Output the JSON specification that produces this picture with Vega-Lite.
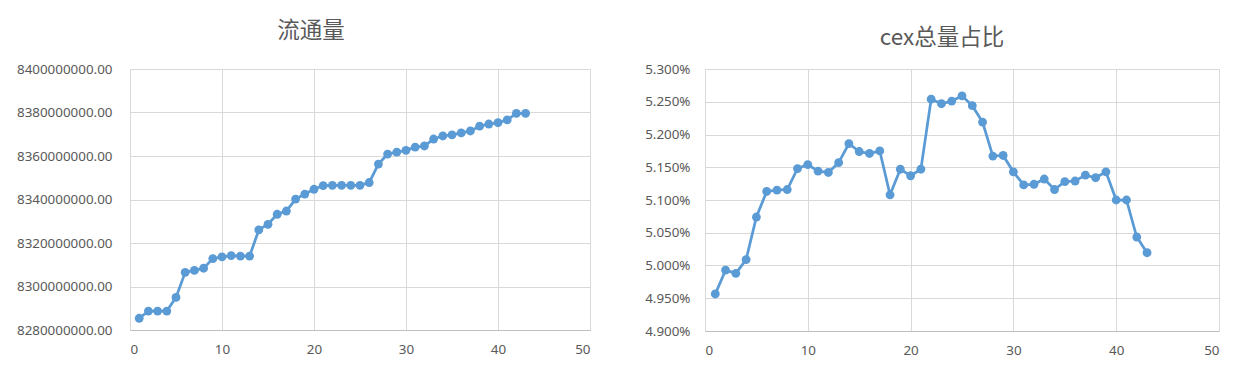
{
  "$schema": "https://vega.github.io/schema/vega-lite/v6.json",
  "background": "white",
  "padding": {"left": 16, "top": 19, "right": 5, "bottom": 5},
  "datasets": {
    "flow": [
      {"n":1,"v":8285400000},{"n":2,"v":8288700000},{"n":3,"v":8288700000},{"n":4,"v":8288700000},
      {"n":5,"v":8295000000},{"n":6,"v":8306500000},{"n":7,"v":8307400000},{"n":8,"v":8308400000},
      {"n":9,"v":8312800000},{"n":10,"v":8313600000},{"n":11,"v":8314200000},{"n":12,"v":8314000000},
      {"n":13,"v":8314000000},{"n":14,"v":8326000000},{"n":15,"v":8328600000},{"n":16,"v":8333200000},
      {"n":17,"v":8334700000},{"n":18,"v":8340200000},{"n":19,"v":8342500000},{"n":20,"v":8344700000},
      {"n":21,"v":8346400000},{"n":22,"v":8346500000},{"n":23,"v":8346500000},{"n":24,"v":8346500000},
      {"n":25,"v":8346500000},{"n":26,"v":8347800000},{"n":27,"v":8356300000},{"n":28,"v":8360900000},
      {"n":29,"v":8361800000},{"n":30,"v":8362600000},{"n":31,"v":8364100000},{"n":32,"v":8364600000},
      {"n":33,"v":8367800000},{"n":34,"v":8369200000},{"n":35,"v":8369700000},{"n":36,"v":8370600000},
      {"n":37,"v":8371500000},{"n":38,"v":8373700000},{"n":39,"v":8374700000},{"n":40,"v":8375300000},
      {"n":41,"v":8376600000},{"n":42,"v":8379600000},{"n":43,"v":8379600000}
    ],
    "cex": [
      {"n":1,"p":0.049565},{"n":2,"p":0.04993},{"n":3,"p":0.04988},{"n":4,"p":0.05009},
      {"n":5,"p":0.05074},{"n":6,"p":0.05113},{"n":7,"p":0.05115},{"n":8,"p":0.05116},
      {"n":9,"p":0.05148},{"n":10,"p":0.05154},{"n":11,"p":0.05144},{"n":12,"p":0.05142},
      {"n":13,"p":0.05157},{"n":14,"p":0.05186},{"n":15,"p":0.05174},{"n":16,"p":0.05171},
      {"n":17,"p":0.05175},{"n":18,"p":0.05108},{"n":19,"p":0.05147},{"n":20,"p":0.05137},
      {"n":21,"p":0.05147},{"n":22,"p":0.05254},{"n":23,"p":0.05247},{"n":24,"p":0.05251},
      {"n":25,"p":0.05259},{"n":26,"p":0.05244},{"n":27,"p":0.05219},{"n":28,"p":0.05167},
      {"n":29,"p":0.05168},{"n":30,"p":0.05143},{"n":31,"p":0.05123},{"n":32,"p":0.05124},
      {"n":33,"p":0.05132},{"n":34,"p":0.05116},{"n":35,"p":0.05128},{"n":36,"p":0.05129},
      {"n":37,"p":0.05138},{"n":38,"p":0.05134},{"n":39,"p":0.05143},{"n":40,"p":0.05100},
      {"n":41,"p":0.05100},{"n":42,"p":0.050435},{"n":43,"p":0.050195}
    ]
  },
  "config": {
    "view": {"stroke": null},
    "font": "Noto Sans",
    "axis": {
      "labelFont": "Noto Sans",
      "labelFontSize": 13.4,
      "labelColor": "#595959",
      "gridColor": "#d9d9d9",
      "gridWidth": 1,
      "ticks": false,
      "title": null,
      "domainColor": "#d9d9d9"
    },
    "axisX": {"domainColor": "#bfbfbf", "labelPadding": 12},
    "title": {
      "font": "Noto Sans CJK SC",
      "fontSize": 22.5,
      "fontWeight": "normal",
      "color": "#595959",
      "anchor": "middle",
      "frame": "group"
    }
  },
  "hconcat": [
    {
      "data": {"name": "flow"},
      "width": 460,
      "height": 261,
      "title": {"text": "流通量", "dx": -49, "offset": 20},
      "mark": {"type": "line", "color": "#5b9bd5", "strokeWidth": 2.75,
               "point": {"filled": true, "size": 78, "color": "#5b9bd5", "opacity": 1}},
      "encoding": {
        "x": {"field": "n", "type": "quantitative",
              "scale": {"domain": [0, 50], "nice": false, "zero": false},
              "axis": {"values": [0, 10, 20, 30, 40, 50], "grid": true}},
        "y": {"field": "v", "type": "quantitative",
              "scale": {"domain": [8280000000, 8400000000], "nice": false, "zero": false},
              "axis": {"values": [8280000000, 8300000000, 8320000000, 8340000000, 8360000000, 8380000000, 8400000000],
                       "format": ".2f", "labelPadding": 18}}
      }
    },
    {
      "data": {"name": "cex"},
      "width": 514,
      "height": 262,
      "title": {"text": "cex总量占比", "dx": -20, "offset": 13},
      "mark": {"type": "line", "color": "#5b9bd5", "strokeWidth": 2.75,
               "point": {"filled": true, "size": 78, "color": "#5b9bd5", "opacity": 1}},
      "encoding": {
        "x": {"field": "n", "type": "quantitative",
              "scale": {"domain": [0, 50], "nice": false, "zero": false},
              "axis": {"values": [0, 10, 20, 30, 40, 50], "grid": true}},
        "y": {"field": "p", "type": "quantitative",
              "scale": {"domain": [0.049, 0.053], "nice": false, "zero": false},
              "axis": {"values": [0.049, 0.0495, 0.05, 0.0505, 0.051, 0.0515, 0.052, 0.0525, 0.053],
                       "format": ".3%", "labelPadding": 15}}
      }
    }
  ],
  "spacing": 115,
  "bounds": "flush"
}
